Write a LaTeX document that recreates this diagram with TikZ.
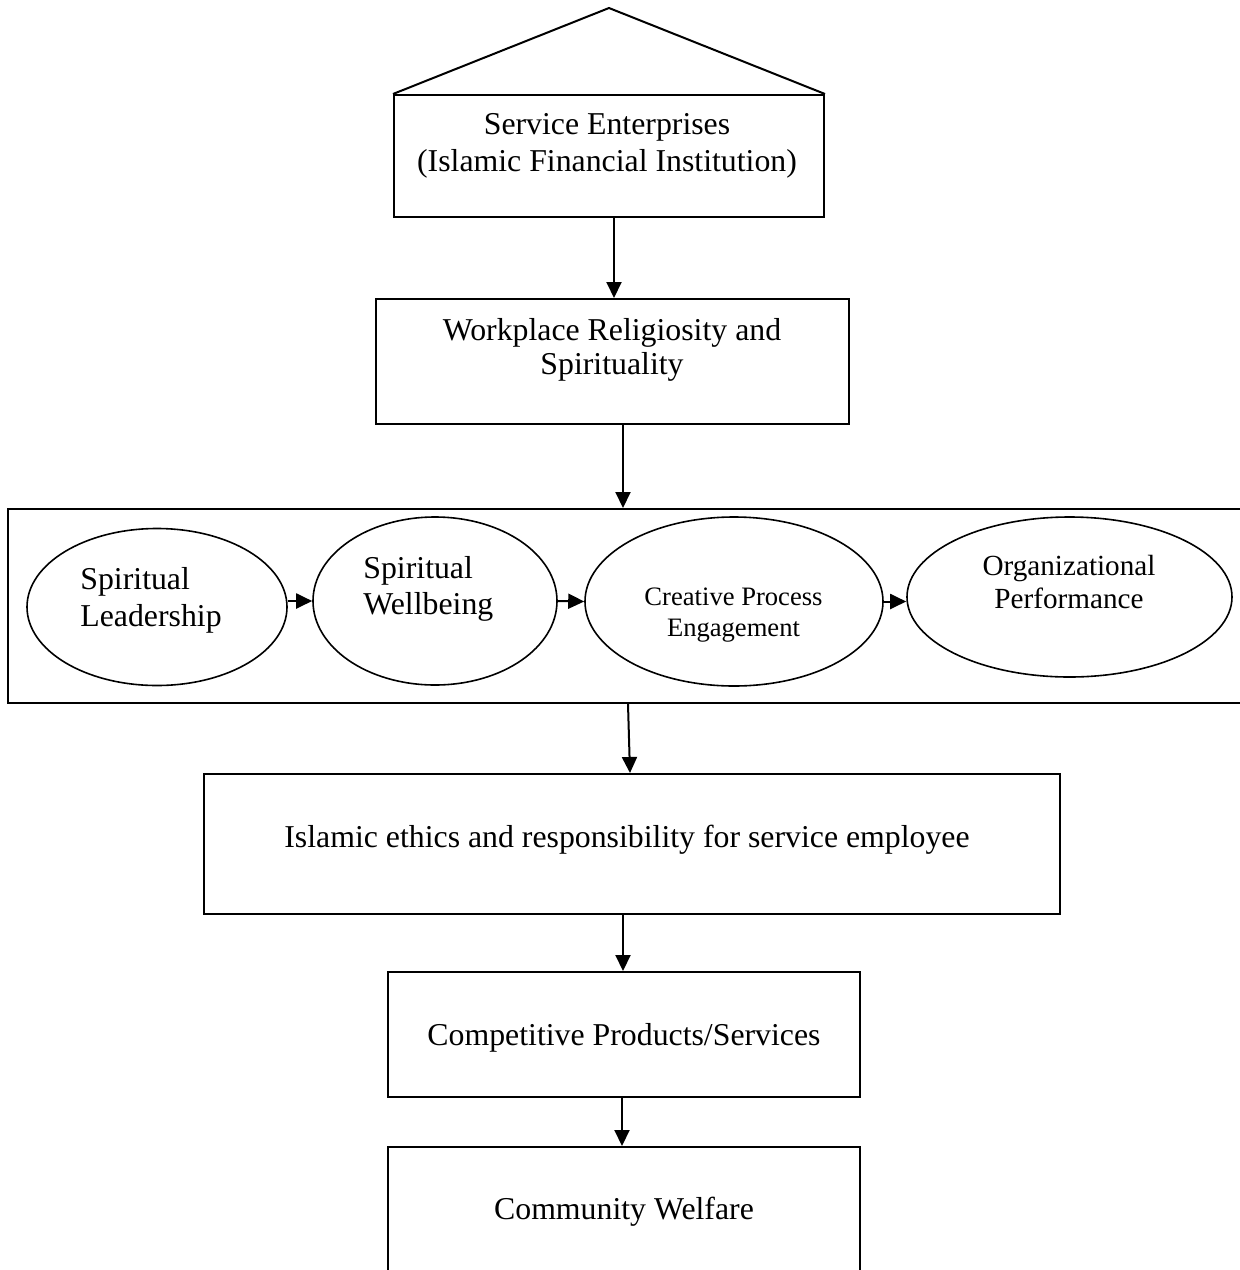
\documentclass[tikz,border=0pt]{standalone}
\usepackage{fontspec}
\setmainfont{Liberation Serif}
\usetikzlibrary{arrows.meta,shapes.geometric}
\tikzset{
  boxshape/.style={draw, line width=1pt, rectangle, inner sep=0pt},
  ellshape/.style={draw, line width=0.8pt, ellipse, inner sep=0pt},
  arr/.style={line width=1pt, -{Triangle[length=8pt,width=7.5pt]}},
  txt/.style={inner sep=0pt, anchor=base, font=\fontsize{15.9}{18}\selectfont},
  txtl/.style={txt, anchor=base west},
  txtc/.style={txt, font=\fontsize{13.3}{16}\selectfont},
  txto/.style={txt, font=\fontsize{14.6}{17}\selectfont},
}
\begin{document}
\begin{tikzpicture}[x=0.5pt, y=-0.5pt]
\useasboundingbox (0,0) rectangle (1240,1270);
\clip (0,0) rectangle (1240,1270);
% boxes
\node[boxshape, minimum width=215pt, minimum height=61pt] (b1) at (609,156) {};
\coordinate (roofL) at (b1.north west);
\coordinate (roofR) at (b1.north east);
\coordinate (apex) at (609,8);
\draw[line width=1pt, line join=miter] (roofL) -- (apex) -- (roofR);
\node[boxshape, minimum width=236.5pt, minimum height=62.5pt] (b2) at (612.5,361.5) {};
\node[boxshape, minimum width=618.5pt, minimum height=97pt] (big) at (626.5,606) {};
\node[boxshape, minimum width=428pt, minimum height=70pt] (b4) at (632,844) {};
\node[boxshape, minimum width=236pt, minimum height=62.5pt] (b5) at (624,1034.5) {};
\node[boxshape, minimum width=236pt, minimum height=71.5pt] (b6) at (624,1218.5) {};
% ellipses
\node[ellshape, minimum width=130pt, minimum height=78.5pt] (e1) at (157,607) {};
\node[ellshape, minimum width=122pt, minimum height=84pt] (e2) at (435,601) {};
\node[ellshape, minimum width=149pt, minimum height=84.5pt] (e3) at (734,601.5) {};
\node[ellshape, minimum width=162.5pt, minimum height=80pt] (e4) at (1069.5,597) {};
% texts
\node[txt] (t1a) at (607,134) {Service Enterprises};
\node[txt] (t1b) at (607,171) {(Islamic Financial Institution)};
\node[txt] (t2a) at (612,340) {Workplace Religiosity and};
\node[txt] (t2b) at (612,374) {Spirituality};
\node[txtl] (te1a) at (80,589) {Spiritual};
\node[txtl] (te1b) at (80,626) {Leadership};
\node[txtl] (te2a) at (363,578) {Spiritual};
\node[txtl] (te2b) at (363,614) {Wellbeing};
\node[txtc] (te3a) at (733.5,605) {Creative Process};
\node[txtc] (te3b) at (733.5,636) {Engagement};
\node[txto] (te4a) at (1069,575) {Organizational};
\node[txto] (te4b) at (1069,608) {Performance};
\node[txt] (t4) at (627,847) {Islamic ethics and responsibility for service employee};
\node[txt] (t5) at (624,1045) {Competitive Products/Services};
\node[txt] (t6) at (624,1219) {Community Welfare};
% arrows
\draw[arr] ([xshift=2.5pt]b1.south) -- ([xshift=0.75pt]b2.north);
\draw[arr] ([xshift=5.25pt]b2.south) -- ([xshift=-1.75pt]big.north);
\draw[arr] ([xshift=0.75pt]big.south) -- ([xshift=-1pt]b4.north);
\draw[arr] ([xshift=-4.5pt]b4.south) -- ([xshift=-0.5pt]b5.north);
\draw[arr] ([xshift=-1pt]b5.south) -- ([xshift=-1pt]b6.north);
\draw[arr] (e1.east |- e2.west) -- (e2.west);
\draw[arr] (e2.east) -- (e3.west);
\draw[arr] (e3.east) -- (e3.east -| e4.west);
\end{tikzpicture}
\end{document}
